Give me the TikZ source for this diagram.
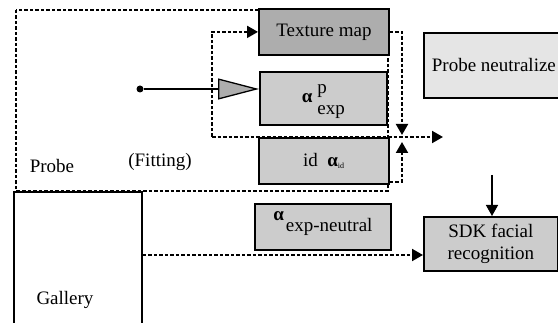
\documentclass[tikz,border=0pt]{standalone}
\usepackage{fontspec}
\setmainfont{Liberation Serif}
\usepackage{amsmath}
\usetikzlibrary{arrows.meta}
\usetikzlibrary{positioning}

\newcommand{\figfont}{\fontsize{19}{22}\selectfont}
\definecolor{texgray}{gray}{0.68}
\definecolor{boxgray}{gray}{0.80}
\definecolor{lightgray}{gray}{0.90}

\tikzset{
  box/.style={draw, line width=1.8pt, fill=boxgray, inner sep=0pt, anchor=north west},
  dashline/.style={line width=2pt, dash pattern=on 3.5pt off 2pt},
  tip/.style={-{Triangle[length=11pt,width=12pt]}},
}

\begin{document}
\begin{tikzpicture}[x=1pt, y=-1pt, font=\figfont]
  \useasboundingbox (0,0) rectangle (558,323);
  % fitting region
  \draw[dashline] (16,10) rectangle (388,191);
  \node[box, fill=texgray, minimum width=130pt, minimum height=46pt] (tex) at (258,8) {Texture map};
  \node[box, minimum width=127pt, minimum height=53pt] (aexp) at (259,71) {{\bfseries α}\hspace{5pt}\smash{\rlap{\raisebox{9pt}{p}}\raisebox{-12pt}{exp}}};
  \node[box, minimum width=130pt, minimum height=46pt] (aid) at (258,137) {id\ \ {\bfseries α}$_{\mbox{\fontsize{8}{8}\selectfont id}}$};
  \node[box, minimum width=136pt, minimum height=46pt] (aneu) at (254,203) {\smash{\raisebox{11pt}{\bfseries α}}\hspace{2pt}exp-neutral};
  \node[box, fill=lightgray, minimum width=140pt, minimum height=65pt] (neut) at (423,32) {Probe neutralize};
  \node[box, align=center, minimum width=134pt, minimum height=54pt] (sdk) at (423,216) {SDK facial\\recognition};
  \node[box, fill=none, minimum width=128pt, minimum height=150pt] (gal) at (13,191) {};
  \node (galtxt) at (65,300) {Gallery};
  \node (probe) at (52,166) {Probe};
  \node (fit) at (160,162) {(Fitting)};

  % probe input
  \node[circle, fill, inner sep=0pt, minimum size=7pt] (dot) at (140,89) {};
  \draw[line width=1.3pt, -{Triangle[length=41pt,width=21pt,fill=texgray]}] (dot) -- (aexp.west |- dot);

  % fitting loop
  \coordinate (fitc) at (212,137);
  \coordinate (outp) at (443,137);
  \coordinate (dtip) at (402,135);
  \coordinate (utip) at (402,142);
  \draw[dashline, tip] (fitc) |- (tex.west);
  \draw[dashline, tip] (fitc) -- (outp);
  \draw[dashline, tip] (tex.east) -| (dtip);
  \draw[dashline, tip] ([yshift=3pt]aid.south east) -| (utip);

  % to recognition
  \draw[dashline, tip] (gal.east |- 0,255) -- (sdk.west |- 0,255);
  \coordinate (sdkin) at (492,175);
  \draw[line width=1.4pt, tip] (sdkin) -- (sdkin |- sdk.north);
\end{tikzpicture}
\end{document}
